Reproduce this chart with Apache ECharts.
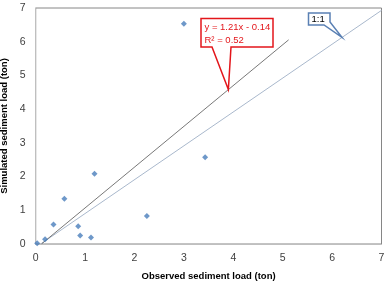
<!DOCTYPE html>
<html><head><meta charset="utf-8">
<script src="https://cdn.jsdelivr.net/npm/echarts@6/dist/echarts.min.js"></script>
<style>html,body{margin:0;padding:0;background:#fff}#c{width:392px;height:283px}</style>
</head><body><div id="c"></div>
<script>
var observed = [0.03, 0.19, 0.36, 0.58, 0.86, 0.90, 1.12, 1.19, 2.25, 3.00, 3.43];
var simulated = [0.02, 0.14, 0.58, 1.34, 0.53, 0.25, 0.19, 2.08, 0.83, 6.53, 2.57];
var trendX = [0.12, 5.12];
var trendY = [0.0052, 6.0552];
var oneToOneX = [0.1, 7.0];
var oneToOneY = [0.0, 6.93];
var xTicks = [0, 1, 2, 3, 4, 5, 6, 7];
var yTicks = [0, 1, 2, 3, 4, 5, 6, 7];
var xTitle = 'Observed sediment load (ton)';
var yTitle = 'Simulated sediment load (ton)';
var eqLine1 = 'y = 1.21x - 0.14';
var eqLine2 = 'R² = 0.52';
var oneLabel = '1:1';
var trendAnchor = [3.9, 4.579];
var oneAnchor = [6.2, 6.13];

var font = "'Liberation Sans',Arial,sans-serif";
var chart = echarts.init(document.getElementById('c'));
function zip(a, b) { return a.map(function (v, i) { return [v, b[i]]; }); }
chart.setOption({
  animation: false,
  grid: { left: 35.7, right: 10.5, top: 8, bottom: 39, containLabel: false, outerBoundsMode: 'none', show: true, borderColor: '#868686', borderWidth: 1, backgroundColor: 'transparent' },
  xAxis: {
    type: 'value', min: xTicks[0], max: xTicks[xTicks.length - 1], interval: 1,
    name: xTitle, nameLocation: 'middle', nameGap: 27,
    nameTextStyle: { fontFamily: font, fontWeight: 'bold', fontSize: 9.5, color: '#000' },
    axisLine: { show: true, lineStyle: { color: '#bfbfbf' } },
    axisTick: { show: false }, splitLine: { show: false },
    axisLabel: { fontFamily: font, fontSize: 10.5, color: '#404040', margin: 9 }
  },
  yAxis: {
    type: 'value', min: yTicks[0], max: yTicks[yTicks.length - 1], interval: 1,
    name: yTitle, nameLocation: 'middle', nameGap: 23, nameRotate: 90,
    nameTextStyle: { fontFamily: font, fontWeight: 'bold', fontSize: 9.5, color: '#000' },
    axisLine: { show: true, lineStyle: { color: '#bfbfbf' } },
    axisTick: { show: false }, splitLine: { show: false },
    axisLabel: { fontFamily: font, fontSize: 10.5, color: '#404040', margin: 10 }
  },
  series: [
    { type: 'line', data: zip(oneToOneX, oneToOneY), symbol: 'none', lineStyle: { color: '#a9b8cc', width: 1 }, z: 2 },
    { type: 'line', data: zip(trendX, trendY), symbol: 'none', lineStyle: { color: '#555555', width: 0.8 }, z: 3 },
    { type: 'scatter', data: zip(observed, simulated), symbol: 'diamond', symbolSize: 6, itemStyle: { color: '#4a7ebb' }, z: 4 }
  ]
});

var tp = chart.convertToPixel({ gridIndex: 0 }, trendAnchor);
var op = chart.convertToPixel({ gridIndex: 0 }, oneAnchor);
chart.setOption({
  graphic: [
    { type: 'polygon', z: 100,
      shape: { points: [[201, 18.5], [273, 18.5], [273, 47], [231, 47], tp, [212, 47], [201, 47]] },
      style: { fill: '#fff', stroke: '#e3161b', lineWidth: 1.5 } },
    { type: 'text', z: 101, x: 204.5, y: 22, style: { text: eqLine1, fontFamily: font, fontSize: 9.5, fill: '#e3161b' } },
    { type: 'text', z: 101, x: 204.5, y: 35, style: { text: eqLine2, fontFamily: font, fontSize: 9.5, fill: '#e3161b' } },
    { type: 'polygon', z: 100,
      shape: { points: [[308.5, 13], [330, 13], [330, 22], op, [324, 25], [308.5, 25]] },
      style: { fill: '#fff', stroke: '#5a80b4', lineWidth: 1.5 } },
    { type: 'text', z: 101, x: 311.5, y: 14, style: { text: oneLabel, fontFamily: font, fontSize: 9.5, fill: '#000' } }
  ]
});
</script></body></html>
